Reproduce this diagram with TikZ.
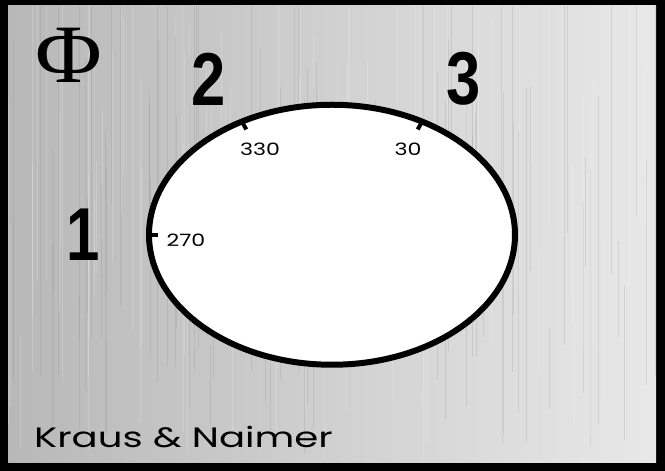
\documentclass[tikz,border=0pt]{standalone}
\usepackage{fontspec}
\usetikzlibrary{calc}
\newfontfamily\platefont{Poppins}
\newfontfamily\posfont{Liberation Sans}
\newfontfamily\phifont{Liberation Serif}
\definecolor{aludark}{RGB}{184,184,184}
\definecolor{alulight}{RGB}{232,232,232}

\begin{document}
\begin{tikzpicture}[x=1pt, y=1pt,
			posnum/.style={font=\posfont\bfseries\fontsize{75}{75}\selectfont, inner sep=0pt},
			degnum/.style={font=\platefont\fontsize{17}{17}\selectfont, inner sep=0pt},
			dialtick/.style={line width=4pt},
			streak/.style={line width=0.8pt, opacity=0.18}]
			\useasboundingbox (0,0) rectangle (665,471);
			
			% Piastra: cornice nera e fondo spazzolato
			\fill[black] (0,0) rectangle (665,471);
			\shade[left color=aludark, right color=alulight] (8,8) rectangle (656,465);
			\pgfmathsetseed{7}
			\foreach \i in {1,...,160} {
				\pgfmathsetmacro{\sx}{8+648*rnd}
				\pgfmathsetmacro{\sy}{8+300*rnd}
				\pgfmathsetmacro{\sl}{80+300*rnd}
				\pgfmathsetmacro{\sy}{min(\sy,465-\sl)}
				\ifodd\i
					\draw[streak, white] (\sx,\sy) -- ++(0,\sl);
				\else
					\draw[streak, gray] (\sx,\sy) -- ++(0,\sl);
				\fi
			}
			
			% Quadrante
			\coordinate (dial) at (332,236.25);
			\draw[line width=6pt, fill=white] (dial) ellipse [x radius=183, y radius=130];
			
			% Tacche
			\coordinate (t270a) at ($(dial)+(180:181 and 128)$);
			\coordinate (t270b) at ($(dial)+(180:174 and 121)$);
			\coordinate (t330a) at ($(dial)+(119.5:181 and 128)$);
			\coordinate (t330b) at ($(dial)+(119.5:174 and 121)$);
			\coordinate (t30a) at ($(dial)+(60.5:181 and 128)$);
			\coordinate (t30b) at ($(dial)+(60.5:174 and 121)$);
			\draw[dialtick] (t270a) -- (t270b);
			\draw[dialtick] (t330a) -- (t330b);
			\draw[dialtick] (t30a) -- (t30b);
			
			% Gradi
			\node[degnum] (d270) at (186,230.5) {\scalebox{1.3}[1]{270}};
			\node[degnum] (d330) at (260,322) {\scalebox{1.3}[1]{330}};
			\node[degnum] (d30) at (408,322) {\scalebox{1.3}[1]{30}};
			
			% Posizioni
			\node[posnum] (p1) at (83,236) {\scalebox{0.8}[1]{1}};
			\node[posnum] (p2) at (209,392) {\scalebox{0.82}[1]{2}};
			\node[posnum] (p3) at (464,392.5) {\scalebox{0.82}[1]{3}};
			
			% Simbolo e marchio
			\node[inner sep=0pt, font=\phifont\fontsize{83}{83}\selectfont] (phi) at (69,415.5) {\scalebox{1.1}[1]{Φ}};
			\node[inner sep=0pt, font=\platefont\fontsize{28}{28}\selectfont] (brand) at (183.5,34) {\scalebox{1.38}[1]{Kraus \& Naimer}};
		\end{tikzpicture}
\end{document}
